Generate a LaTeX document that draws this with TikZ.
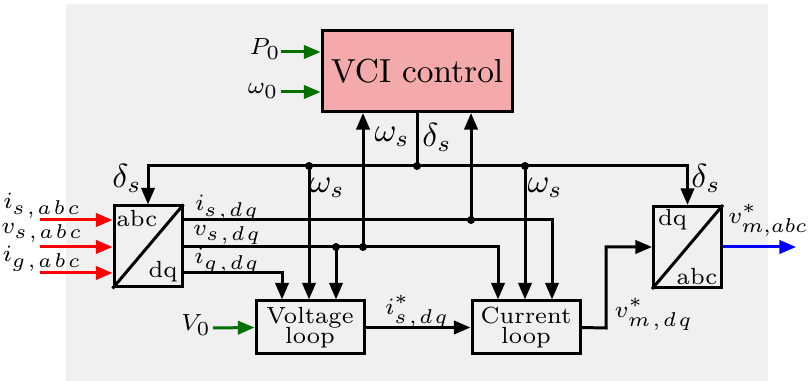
\documentclass[tikz,border=0pt]{standalone}
\usetikzlibrary{arrows.meta}
\DeclareMathSizes{7}{7}{6}{5}
\newcommand\kgap{\mskip2mu}
\definecolor{bggray}{HTML}{F0F0F0}
\definecolor{vcipink}{HTML}{F4AAAA}
\definecolor{dgreen}{HTML}{007000}
\begin{document}
\begin{tikzpicture}[x=0.3pt,y=-0.3pt,
  ln/.style={line width=0.9pt},
  arr/.style={ln,-{Triangle[length=5pt,width=4pt]}},
  blk/.style={draw,line width=0.9pt,inner sep=0pt},
  conv/.style={blk,minimum width=20.4pt,minimum height=24.3pt},
  loopbox/.style={blk,minimum width=32.4pt,minimum height=15.9pt,font=\scriptsize,align=center},
  dot/.style={circle,fill=black,inner sep=0pt,minimum size=2.4pt},
  lbl/.style={font=\fontsize{7}{8}\selectfont,inner sep=0pt},
  blbl/.style={font=\normalsize,inner sep=0pt}]
\useasboundingbox (0,0) rectangle (811,381);
\fill[bggray] (66,4) rectangle (768,381);

% blocks
\node[blk,fill=vcipink,minimum width=57pt,minimum height=24.3pt] (vci) at (417,71) {VCI control};
\node[conv] (abcL) at (148,246.5) {};
\node[conv] (dqR) at (687.5,247) {};
\node[loopbox] (vl) at (310,327.5) {Voltage\\[-2pt]loop};
\node[loopbox] (cl) at (526,327.5) {Current\\[-2pt]loop};
\draw[ln] (abcL.south west) -- (abcL.north east);
\draw[ln] (dqR.south west) -- (dqR.north east);
\node[font=\scriptsize,inner sep=0pt] (tA1) at (137,219) {abc};
\node[font=\scriptsize,inner sep=0pt] (tA2) at (163,272) {dq};
\node[font=\scriptsize,inner sep=0pt] (tB1) at (672.5,220) {dq};
\node[font=\scriptsize,inner sep=0pt] (tB2) at (697,277) {abc};

% coordinates
\coordinate (bus) at (417,166);
\coordinate (d1) at (309,166);
\coordinate (d3) at (525,166);
\coordinate (o1) at (182,220);
\coordinate (o2) at (182,247);
\coordinate (o3) at (182,273);
\coordinate (j1) at (471,220);
\coordinate (j2) at (336,247);
\coordinate (j3) at (363,247);
\coordinate (c1) at (606,328);
\coordinate (out) at (796,247);
\coordinate (r1) at (40,220);
\coordinate (r2) at (40,247);
\coordinate (r3) at (40,273);
\coordinate (g1) at (281,52);
\coordinate (g2) at (281,92);
\coordinate (g3) at (213,328);

% bus
\draw[ln] (vci.south) -- (bus);
\draw[arr] (bus) -| (abcL.north);
\draw[arr] (bus) -| (dqR.north);
\draw[arr] (d1) -- (d1 |- vl.north);
\draw[arr] (d3) -- (d3 |- cl.north);

% dq signals
\draw[arr] (o1) -| ([xshift=7.8pt]cl.north);
\draw[arr] (o2) -| ([xshift=-8.4pt]cl.north);
\draw[arr] (o3) -| ([xshift=-8.4pt]vl.north);
\draw[arr] (j1) -- (j1 |- vci.south);
\draw[arr] (j3) -- (j3 |- vci.south);
\draw[arr] (j2) -- (j2 |- vl.north);

\node[dot] at (bus) {};
\node[dot] at (d1) {};
\node[dot] at (d3) {};
\node[dot] at (j1) {};
\node[dot] at (j2) {};
\node[dot] at (j3) {};

% loops
\draw[arr] (vl) -- (cl);
\draw[arr] (cl.east) -- (c1) |- (dqR.west);
\draw[arr,blue] (dqR.east) -- (out);

% inputs
\draw[arr,red] (r1) -- (r1 -| abcL.west);
\draw[arr,red] (r2) -- (r2 -| abcL.west);
\draw[arr,red] (r3) -- (r3 -| abcL.west);
\draw[arr,dgreen] (g1) -- (g1 -| vci.west);
\draw[arr,dgreen] (g2) -- (g2 -| vci.west);
\draw[arr,dgreen] (g3) -- (vl.west);

% labels
\node[lbl] at (42,206) {$i_{s\kgap,\kgap a\kgap b\kgap c}$};
\node[lbl] at (42,233) {$v_{s\kgap,\kgap a\kgap b\kgap c}$};
\node[lbl] at (42,259) {$i_{g\kgap,\kgap a\kgap b\kgap c}$};
\node[lbl] at (227,208) {$i_{s\kgap,\kgap d\kgap q}$};
\node[lbl] at (227,235) {$v_{s\kgap,\kgap d\kgap q}$};
\node[lbl] at (227,261) {$i_{g\kgap,\kgap d\kgap q}$};
\node[lbl] at (265,49) {$P_0$};
\node[lbl] at (263,91) {$\omega_0$};
\node[lbl] at (196,325) {$V_0$};
\node[lbl] at (417,311) {$i^*_{s\kgap,\kgap d\kgap q}$};
\node[lbl,anchor=west] at (614,314) {$v^*_{m\kgap,\kgap d\kgap q}$};
\node[lbl,anchor=east] at (809,220) {$v^*_{m,abc}$};
\node[blbl] at (392,137) {$\omega_s$};
\node[blbl] at (437,137) {$\delta_s$};
\node[blbl] at (127,178) {$\delta_s$};
\node[blbl] at (706,178) {$\delta_s$};
\node[blbl] at (327,188) {$\omega_s$};
\node[blbl] at (545,188) {$\omega_s$};
\end{tikzpicture}
\end{document}
